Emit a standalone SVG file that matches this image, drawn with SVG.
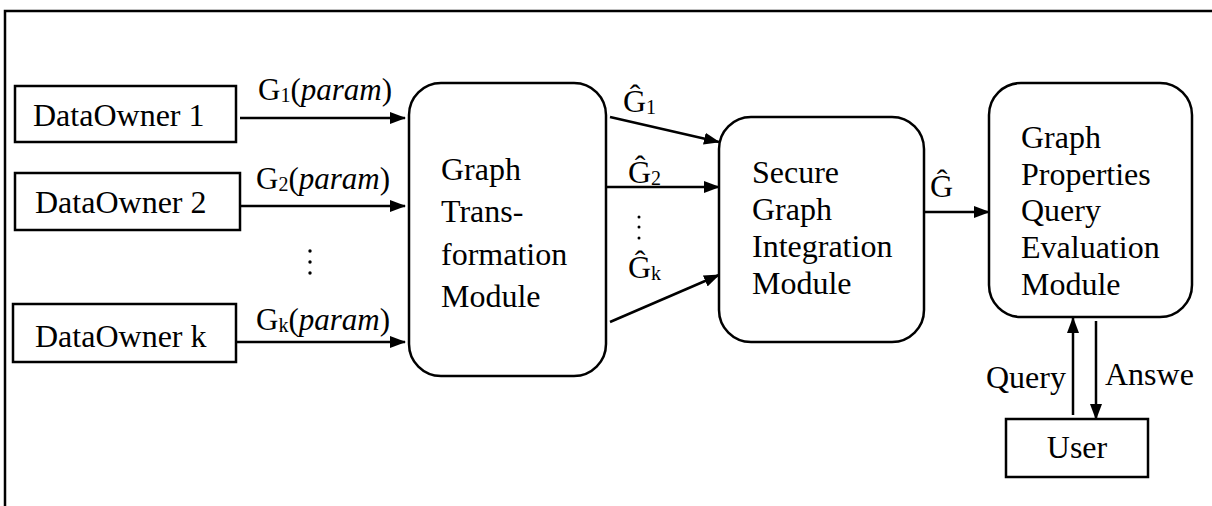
<svg xmlns="http://www.w3.org/2000/svg" width="1212" height="506" viewBox="0 0 1212 506">
<defs>
<style>
.t{font-family:"Liberation Serif","Times New Roman",serif;font-size:32px;fill:#000}
.l{font-family:"Liberation Serif","Times New Roman",serif;font-size:31px;fill:#000}
.s{font-size:20px}
.box{fill:#fff;stroke:#000;stroke-width:2.5}
.c{stroke:#000;stroke-width:2.5;fill:none}
</style>
<marker id="ah" markerWidth="16" markerHeight="12" refX="15" refY="6" orient="auto" markerUnits="userSpaceOnUse">
<path d="M0,0 L16,6 L0,12 Z" fill="#000"/>
</marker>
</defs>
<rect width="1212" height="506" fill="#fff"/>
<path d="M5,506 V11 H1212" fill="none" stroke="#000" stroke-width="2.5"/>

<g id="owner1"><rect class="box" x="15" y="86" width="221" height="56"/><text class="t" x="33" y="126">DataOwner 1</text></g>
<g id="owner2"><rect class="box" x="15" y="173" width="225" height="57"/><text class="t" x="35" y="213">DataOwner 2</text></g>
<g id="ownerk"><rect class="box" x="13" y="304" width="223" height="58"/><text class="t" x="35" y="347">DataOwner k</text></g>
<g id="dots-owners" fill="#000"><circle cx="310" cy="251" r="1.7"/><circle cx="310" cy="262" r="1.7"/><circle cx="310" cy="273" r="1.7"/></g>

<g id="transform"><rect class="box" x="409" y="83" width="197" height="293" rx="32"/>
<text class="t" x="441" y="180">Graph</text><text class="t" x="441" y="222">Trans-</text><text class="t" x="441" y="265">formation</text><text class="t" x="441" y="307">Module</text></g>

<g id="integration"><rect class="box" x="719" y="117" width="205" height="225" rx="32"/>
<text class="t" x="752" y="183">Secure</text><text class="t" x="752" y="220">Graph</text><text class="t" x="752" y="257">Integration</text><text class="t" x="752" y="294">Module</text></g>

<g id="evaluation"><rect class="box" x="989" y="83" width="203" height="234" rx="32"/>
<text class="t" x="1021" y="148">Graph</text><text class="t" x="1021" y="185">Properties</text><text class="t" x="1021" y="221">Query</text><text class="t" x="1021" y="258">Evaluation</text><text class="t" x="1021" y="295">Module</text></g>

<g id="user"><rect class="box" x="1006" y="419" width="142" height="58"/><text class="t" x="1077" y="458" text-anchor="middle">User</text></g>

<g id="connectors">
<line class="c" x1="240" y1="118" x2="405" y2="118" marker-end="url(#ah)"/>
<line class="c" x1="240" y1="206" x2="405" y2="206" marker-end="url(#ah)"/>
<line class="c" x1="236" y1="342" x2="405" y2="342" marker-end="url(#ah)"/>
<line class="c" x1="610" y1="117" x2="719" y2="142" marker-end="url(#ah)"/>
<line class="c" x1="606" y1="187" x2="719" y2="187" marker-end="url(#ah)"/>
<line class="c" x1="610" y1="322" x2="719" y2="275" marker-end="url(#ah)"/>
<line class="c" x1="924" y1="212" x2="989" y2="212" marker-end="url(#ah)"/>
<line class="c" x1="1073" y1="415" x2="1073" y2="318" marker-end="url(#ah)"/>
<line class="c" x1="1096" y1="321" x2="1096" y2="419" marker-end="url(#ah)"/>
<g fill="#000"><circle cx="639" cy="217" r="1.5"/><circle cx="639" cy="227" r="1.5"/><circle cx="639" cy="238" r="1.5"/></g>
<text class="l" x="258" y="100">G<tspan class="s" dy="2">1</tspan><tspan dy="-2">(</tspan><tspan font-style="italic">param</tspan>)</text>
<text class="l" x="256" y="189">G<tspan class="s" dy="2">2</tspan><tspan dy="-2">(</tspan><tspan font-style="italic">param</tspan>)</text>
<text class="l" x="256" y="330">G<tspan class="s" dy="2">k</tspan><tspan dy="-2">(</tspan><tspan font-style="italic">param</tspan>)</text>
<text class="t" x="623" y="112">Ĝ<tspan class="s" dy="2">1</tspan></text>
<text class="t" x="628" y="183">Ĝ<tspan class="s" dy="2">2</tspan></text>
<text class="t" x="628" y="278">Ĝ<tspan class="s" dy="2">k</tspan></text>
<text class="t" x="930" y="197">Ĝ</text>
<text class="t" x="986" y="388">Query</text>
<text class="t" x="1105" y="385">Answe</text>
</g>
</svg>
